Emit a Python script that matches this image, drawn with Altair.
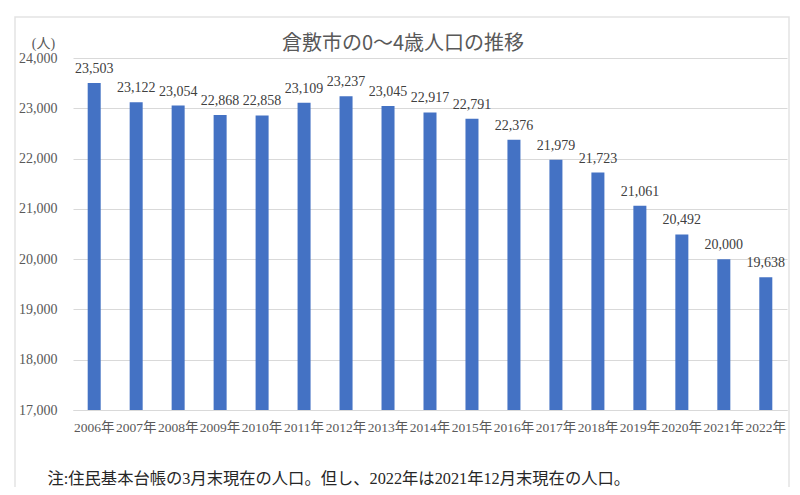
import altair as alt
import pandas as pd

YEARS = [f"{y}年" for y in range(2006, 2023)]
POPULATION = [
    23503, 23122, 23054, 22868, 22858, 23109, 23237, 23045, 22917,
    22791, 22376, 21979, 21723, 21061, 20492, 20000, 19638,
]
Y_TICKS = [17000, 18000, 19000, 20000, 21000, 22000, 23000, 24000]

TITLE = "倉敷市の0～4歳人口の推移"
NOTE = "注:住民基本台帳の3月末現在の人口。但し、2022年は2021年12月末現在の人口。"

BAR_COLOR = "#4472C4"
TEXT_COLOR = "#595959"
GRID_COLOR = "#d9d9d9"
SERIF = "Liberation Serif, DejaVu Serif, Noto Sans CJK JP, serif"
SANS = "Noto Sans CJK JP, Noto Sans, sans-serif"

df = pd.DataFrame({"year": YEARS, "pop": POPULATION})

x_enc = alt.X(
    "year:N",
    sort=YEARS,
    scale=alt.Scale(paddingInner=0.69, paddingOuter=0.35),
    axis=alt.Axis(
        title=NOTE,
        titleFont=SERIF,
        titleFontSize=16.3,
        titleFontWeight="normal",
        titleColor="#262626",
        titleAnchor="start",
        titleAlign="left",
        titleBaseline="middle",
        titleX=-26,
        titleY=68,
        labelAngle=0,
        labelFont=SERIF,
        labelFontSize=13.5,
        labelColor=TEXT_COLOR,
        labelPadding=10,
        ticks=False,
        domainColor=GRID_COLOR,
    ),
)

y_enc = alt.Y(
    "pop:Q",
    scale=alt.Scale(domain=[17000, 24000], nice=False, zero=False),
    axis=alt.Axis(
        values=Y_TICKS,
        format=",.0f",
        title="(人)",
        titleAngle=0,
        titleFont=SERIF,
        titleFontSize=14,
        titleFontWeight="normal",
        titleColor=TEXT_COLOR,
        titleAlign="center",
        titleBaseline="middle",
        titleX=-30,
        titleY=-15,
        labelFont=SERIF,
        labelFontSize=14,
        labelColor=TEXT_COLOR,
        labelPadding=16,
        ticks=False,
        domain=False,
        gridColor=GRID_COLOR,
    ),
)

frame = (
    alt.Chart(pd.DataFrame({"a": [0]}))
    .mark_rect(fill=None, stroke="#e3e3e3", strokeWidth=1.5, clip=False)
    .encode(x=alt.value(-58), x2=alt.value(716), y=alt.value(-41), y2=alt.value(480))
)

title = (
    alt.Chart(pd.DataFrame({"t": [TITLE]}))
    .mark_text(font=SANS, fontSize=20, color=TEXT_COLOR, baseline="alphabetic")
    .encode(x=alt.value(330), y=alt.value(-8), text="t:N")
)

bars = alt.Chart(df).mark_bar(color=BAR_COLOR, clip=True).encode(x=x_enc, y=y_enc)

labels = (
    alt.Chart(df)
    .mark_text(baseline="bottom", dy=-7, font=SERIF, fontSize=14, color="#404040")
    .encode(
        x=alt.X("year:N", sort=YEARS),
        y="pop:Q",
        text=alt.Text("pop:Q", format=",.0f"),
    )
)

chart = (
    (frame + title + bars + labels)
    .properties(
        width=714,
        height=352,
        padding={"left": 65, "top": 50, "right": 5, "bottom": 77},
        autosize=alt.AutoSizeParams(type="none"),
    )
    .configure_view(stroke=None)
)

chart.save("out.html", embed_options={"renderer": "svg", "actions": False})
